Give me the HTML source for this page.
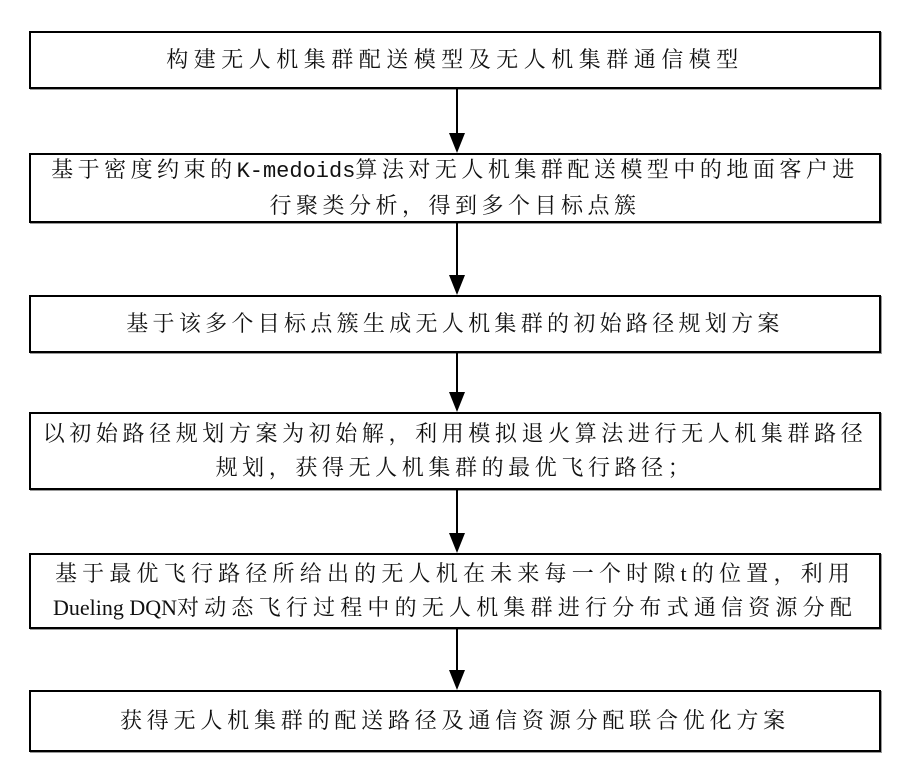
<!DOCTYPE html>
<html><head><meta charset="utf-8"><style>
body{margin:0;width:920px;height:773px;background:#fff;position:relative;overflow:hidden;font-family:"Liberation Serif","Noto Serif CJK SC",serif;}
.b{position:absolute;left:29px;width:852px;border:2px solid #000;box-shadow:1px 1px 0 #999;display:flex;align-items:center;justify-content:center;text-align:center;font-size:22px;line-height:34px;color:#111;box-sizing:border-box;padding:0;white-space:nowrap;}
.m{font-family:"Liberation Mono",monospace;letter-spacing:0;}
</style></head><body>
<div class="b" style="top:31px;height:58px;letter-spacing:5.5px">构建无人机集群配送模型及无人机集群通信模型</div>
<div class="b" style="top:153px;height:70px;letter-spacing:4.5px"><div>基于密度约束的<span class="m">K-medoids</span>算法对无人机集群配送模型中的地面客户进<br>行聚类分析，得到多个目标点簇</div></div>
<div class="b" style="top:295px;height:58px;letter-spacing:4.3px">基于该多个目标点簇生成无人机集群的初始路径规划方案</div>
<div class="b" style="top:412px;height:78px;letter-spacing:4.6px"><div>以初始路径规划方案为初始解，利用模拟退火算法进行无人机集群路径<br>规划，获得无人机集群的最优飞行路径；</div></div>
<div class="b" style="top:553px;height:76px;letter-spacing:5.2px"><div>基于最优飞行路径所给出的无人机在未来每一个时隙t的位置，利用<br><span style="letter-spacing:0">Dueling DQN</span>对动态飞行过程中的无人机集群进行分布式通信资源分配</div></div>
<div class="b" style="top:690px;height:62px;letter-spacing:4.8px">获得无人机集群的配送路径及通信资源分配联合优化方案</div>
<svg width="920" height="773" style="position:absolute;left:0;top:0">
<g stroke="#000" stroke-width="2">
<line x1="457" y1="89" x2="457" y2="140"/>
<line x1="457" y1="223" x2="457" y2="282"/>
<line x1="457" y1="353" x2="457" y2="399"/>
<line x1="457" y1="490" x2="457" y2="540"/>
<line x1="457" y1="629" x2="457" y2="677"/>
</g>
<g fill="#000">
<polygon points="449,133 465,133 457,153"/>
<polygon points="449,275 465,275 457,295"/>
<polygon points="449,392 465,392 457,412"/>
<polygon points="449,533 465,533 457,553"/>
<polygon points="449,670 465,670 457,690"/>
</g>
</svg>
</body></html>
